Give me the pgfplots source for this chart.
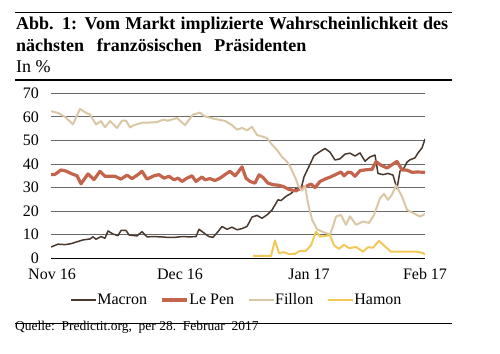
\documentclass[border=0pt]{standalone}
\usepackage{fontspec}
\setmainfont{Liberation Serif}
\usepackage{pgfplots}
\pgfplotsset{compat=1.18}
\definecolor{cMac}{RGB}{72,56,46}
\definecolor{cLeP}{RGB}{196,100,76}
\definecolor{cFil}{RGB}{218,199,165}
\definecolor{cHam}{RGB}{242,200,88}
\definecolor{cGrid}{RGB}{105,105,105}
\begin{document}
\begin{tikzpicture}[x=1pt,y=1pt]
\useasboundingbox (0,0) rectangle (500,353);
\draw[line width=1.1pt] (15,340.3) -- (452,340.3);
\node[anchor=base west, inner sep=0pt, font=\fontsize{18}{21}\selectfont\bfseries] at (16,323.7) {\makebox[432pt][s]{Abb. 1: Vom Markt implizierte Wahrscheinlichkeit des}};
\node[anchor=base west, inner sep=0pt, font=\fontsize{18}{21}\selectfont\bfseries] at (16,301.3) {nächsten\hspace{0.7em}französischen\hspace{0.7em}Präsidenten};
\node[anchor=base west, inner sep=0pt, font=\fontsize{18}{21}\selectfont] at (16,280.3) {In \%};
\draw[line width=1.1pt] (15,273) -- (452,273);
\begin{axis}[
  at={(51pt,94.7pt)}, anchor=south west,
  scale only axis, width=374pt, height=165pt,
  xmin=51, xmax=425, ymin=0, ymax=70,
  axis x line*=bottom, axis y line*=left,
  y axis line style={draw=none},
  x axis line style={black, line width=1.3pt},
  major tick length=0pt,
  ytick={0,10,...,70},
  xtick={52,180,309,425},
  xticklabels={Nov 16, Dec 16, Jan 17, Feb 17},
  ymajorgrids, grid style={cGrid, line width=1pt},
  /pgf/number format/assume math mode=true,
  tick label style={font=\fontsize{16}{19}\selectfont},
  yticklabel style={xshift=-8.5pt},
  xticklabel style={yshift=-7pt},
  every axis plot/.append style={line join=round},
  legend style={at={(0.495,-0.253)}, anchor=center, draw=none, fill=none,
    font=\fontsize{16}{19}\selectfont, legend columns=4,
    nodes={inner sep=0.5pt},
    /tikz/every even column/.append style={column sep=13pt}},
  legend image code/.code={\draw[#1, line cap=butt] (0pt,0pt) -- (25pt,0pt);},
]
\addplot[cMac, line width=1.5pt] coordinates {
(51,4.8)(58,6)(65,5.8)(71,6.2)(77,7)(83,7.8)(90,8.2)(93,9.1)(96,8.1)(101,9.2)
(105,8.5)(108,11.6)(113,10.3)(118,9.6)(121,11.8)(126,11.8)(129,9.9)(137,9.5)(142,11.3)(147,9.1)
(153,9.2)(161,9.1)(167,8.9)(175,8.9)(182,9.2)(190,9.1)(196,9.2)(199,12.3)(205,10.4)(209,9.2)
(213,8.9)(218,11.3)(222,13.5)(227,12.3)(232,13.2)(237,12.1)(242,12.6)(247,13.5)(252,17.5)(257,18.2)
(262,17)(267,18.4)(272,20.5)(278,24.8)(281,24.5)(286,26.3)(291,27.5)(296,29.6)(301,29.5)(304,34.5)
(309,39)(314,43.5)(319,45)(325,46.6)(330,45)(335,41.7)(340,42.2)(345,44.2)(350,44.6)(355,43.4)
(360,44.7)(365,41.2)(370,43)(375,43.8)(378,36)(383,35.5)(388,36)(393,35.3)(397,29.5)(400,37)
(404,38.3)(407,40.8)(410,41.8)(415,42.6)(418,44.7)(422,46.8)(425,50.6)};
\addlegendentry{Macron}
\addplot[cLeP, line width=3.2pt] coordinates {
(51,35.5)(55,35.6)(61,37.5)(66,37)(72,35.8)(77,35)(81,31.6)(88,35.8)(94,33.4)(100,36.9)
(105,34.8)(115,34.8)(121,33.6)(127,35.3)(132,33.8)(137,35.2)(142,36.9)(147,33.6)(154,35)(159,35.5)
(164,34)(169,34.8)(174,33.3)(178,34)(182,32.6)(187,34)(192,35)(196,32.6)(202,34.5)(205,33.3)
(210,33.8)(215,33)(220,34)(225,35.5)(230,36.9)(235,35)(238,36.5)(242,38.8)(246,34)(250,32.6)
(255,31.9)(259,35.4)(263,34.3)(268,31.9)(273,31.2)(277,31.1)(283,30.5)(289,29.2)(296,28.6)(301,29.8)
(306,30.5)(311,31.5)(315,30)(320,32.6)(326,33.8)(331,34.6)(336,35.6)(341,36.6)(344,35)(348,36.5)
(351,36.4)(355,34.8)(360,37.2)(367,37.6)(372,37.7)(376,41)(381,39.5)(387,38.3)(392,39.7)(397,41.1)
(402,37.5)(407,37.4)(412,36.5)(417,36.6)(425,36.5)};
\addlegendentry{Le Pen}
\addplot[cFil, line width=2pt] coordinates {
(51,62.4)(58,61.7)(65,60)(73,56.8)(80,63.4)(86,61.7)(90,61)(96,56.8)(101,58.2)(105,55.6)
(110,58.2)(117,55.3)(122,58.4)(126,58.4)(130,55.5)(134,56.5)(143,57.6)(150,57.6)(157,57.8)(163,58.8)
(168,58.4)(177,59.5)(185,56.5)(193,61)(200,61.8)(205,60.2)(215,59.1)(225,58.3)(232,56.5)(237,54.6)
(242,55.3)(247,54.3)(252,55.8)(257,52.3)(262,51.7)(267,51)(272,48.2)(277,46)(282,43)(287,41)
(290,39)(293,36.2)(296,33.5)(298,31)(302,28.7)(305,30.8)(308,23.4)(312,16.5)(317,12.3)(325,10.8)
(330,10.1)(333,13.6)(336,17.7)(341,18.4)(346,14.2)(350,17.8)(356,14.2)(363,15.6)(369,15)(374,18.4)
(380,25.5)(384,27.3)(388,24.8)(392,27)(396,31)(402,26.2)(407,20.6)(413,19.2)(420,17.7)(425,18.8)};
\addlegendentry{Fillon}
\addplot[cHam, line width=2pt] coordinates {
(253,1)(258,1)(264,1)(271,1)(275,7.6)(279,2.2)(284,2.6)(289,1.8)(295,1.9)(300,3.2)
(306,3.2)(311,5.5)(316,11.3)(320,9.2)(326,9.5)(330,9.8)(334,5.5)(339,4)(344,5.7)(349,4.3)
(356,4.8)(363,2.8)(368,4.7)(373,4.5)(379,7.4)(385,5)(391,2.8)(400,2.8)(410,2.8)(417,2.8)
(423,2.2)(425,1.5)};
\addlegendentry{Hamon}
\end{axis}
\node[anchor=base west, inner sep=0pt, font=\fontsize{13.5}{16}\selectfont] at (15,22.3) {Quelle:\hspace{0.5em}Predictit.org,\hspace{0.5em}per 28.\hspace{0.5em}Februar\hspace{0.5em}2017};
\draw[line width=1.1pt] (15,29.7) -- (452,29.7);
\end{tikzpicture}
\end{document}
